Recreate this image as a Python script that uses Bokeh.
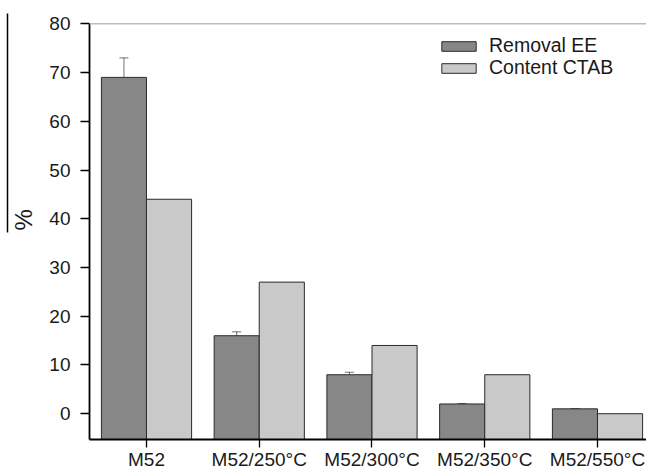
from bokeh.embed import file_html
from bokeh.resources import INLINE
from bokeh.plotting import figure
from bokeh.models import (ColumnDataSource, FixedTicker, Whisker, TeeHead, Legend,
                          LegendItem, Span, Range1d, LinearAxis)

# ---- data -------------------------------------------------------------
samples = ["M52", "M52/250\u00b0C", "M52/300\u00b0C", "M52/350\u00b0C", "M52/550\u00b0C"]
removal_ee = [69, 16, 8, 2, 1]
removal_ee_err = [4, 0.8, 0.5, 0.1, 0]
content_ctab = [44, 27, 14, 8, 0]
y_ticks = [0, 10, 20, 30, 40, 50, 60, 70, 80]

FONT = "Liberation Sans"
DARK = "#878787"
LIGHT = "#c9c9c9"
TEXT = "#1a1a1a"

y_start, y_top, y_end = -5.29, 80, 82.11
x_pos = list(range(1, len(samples) + 1))
offset = 0.2
bar_w = 0.4

src = ColumnDataSource(dict(
    x_ee=[x - offset for x in x_pos],
    x_ct=[x + offset for x in x_pos],
    ee=removal_ee,
    ct=content_ctab,
    upper=[v + e for v, e in zip(removal_ee, removal_ee_err)],
    lower=[v - e for v, e in zip(removal_ee, removal_ee_err)],
    base=[y_start] * len(samples),
))

p = figure(frame_width=557, frame_height=426,
           x_range=Range1d(0.4945, 5.4346), y_range=Range1d(y_start, y_end),
           output_backend="svg", toolbar_location=None,
           min_border_left=89, min_border_right=0, min_border_top=13,
           min_border_bottom=31)
p.background_fill_color = "white"
p.border_fill_color = "white"
p.outline_line_color = None
p.xgrid.visible = False
p.ygrid.visible = False

r_ee = p.vbar(x="x_ee", top="ee", bottom="base", width=bar_w, source=src,
              fill_color=DARK, line_color="#2b2b2b", line_width=1)
r_ct = p.vbar(x="x_ct", top="ct", bottom="base", width=bar_w, source=src,
              fill_color=LIGHT, line_color="#2b2b2b", line_width=1)

# error bars on the removal series
p.add_layout(Whisker(source=src, base="x_ee", upper="upper", lower="lower",
                     line_color="black", line_alpha=0.55, line_width=1,
                     upper_head=TeeHead(size=9, line_color="black", line_alpha=0.55),
                     lower_head=TeeHead(size=9, line_color="black", line_alpha=0.55)))

# thin grey line closing the plot area at the top
p.add_layout(Span(location=y_top, dimension="width", line_color="#bcbcbc", line_width=1.5))

# axes
p.xaxis.ticker = FixedTicker(ticks=x_pos)
p.xaxis.major_label_overrides = {x: s for x, s in zip(x_pos, samples)}
p.yaxis.ticker = FixedTicker(ticks=y_ticks)
p.yaxis.bounds = (y_start, y_top)
for ax in (p.xaxis, p.yaxis):
    ax.axis_line_color = "black"
    ax.axis_line_width = 1.8
    ax.major_tick_line_color = "black"
    ax.major_tick_line_width = 1.3
    ax.major_tick_in = 0
    ax.minor_tick_line_color = None
    ax.major_label_text_font = FONT
    ax.major_label_text_color = TEXT
p.xaxis.major_tick_out = 8
p.yaxis.major_tick_out = 9
p.xaxis.major_label_text_font_size = "19px"
p.yaxis.major_label_text_font_size = "19px"
p.xaxis.major_label_standoff = 1
p.yaxis.major_label_standoff = 10

# y-axis title (non-breaking spaces lift the sign a little above centre)
p.yaxis.axis_label = "\u00a0\u00a0%"
p.yaxis.axis_label_text_font = FONT
p.yaxis.axis_label_text_font_size = "24px"
p.yaxis.axis_label_text_font_style = "normal"
p.yaxis.axis_label_text_color = TEXT
p.yaxis.axis_label_standoff = 9

# rule on the outer side of the title
rule_axis = LinearAxis(ticker=FixedTicker(ticks=[]), bounds=(37.2, y_end),
                       axis_line_color="black", axis_line_width=1.5,
                       major_tick_line_color=None, minor_tick_line_color=None,
                       major_tick_out=0, major_tick_in=0)
p.add_layout(rule_axis, "left")

legend_style = dict(padding=0, margin=0, spacing=0,
                    glyph_width=43, glyph_height=12, label_standoff=9,
                    label_text_font=FONT, label_text_font_size="19.5px",
                    label_text_color=TEXT,
                    background_fill_alpha=0, border_line_color=None)
p.add_layout(Legend(items=[LegendItem(label="Removal EE", renderers=[r_ee])],
                    location=(348, 382), **legend_style))
p.add_layout(Legend(items=[LegendItem(label="Content CTAB", renderers=[r_ct])],
                    location=(348, 360), **legend_style))

open("out.html", "w").write(file_html(p, INLINE))
